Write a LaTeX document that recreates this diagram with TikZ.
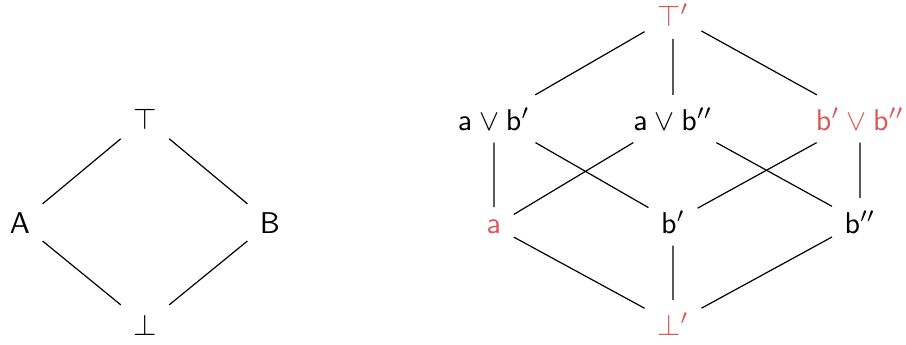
\documentclass[tikz,border=0pt]{standalone}
\definecolor{latred}{RGB}{217,88,84}
\begin{document}
\begin{tikzpicture}[x=0.33333pt,y=-0.33333pt,
  el/.style={anchor=base,inner sep=4pt,font=\sffamily},
  red/.style={text=latred}]
\useasboundingbox (0,0) rectangle (906,344);
% left lattice
\node[el] (T) at (145,129) {$\top$};
\node[el] (A) at (20,233) {A};
\node[el] (B) at (270,233) {B};
\node[el] (Bot) at (145,335) {$\bot$};
\draw (T) -- (A) (T) -- (B) (A) -- (Bot) (B) -- (Bot);
% right lattice
\node[el,red] (T2) at (673,26.5) {$\top'$};
\node[el] (ab1) at (494,130) {$\mathsf{a}\vee\mathsf{b}'$};
\node[el] (ab2) at (673,130) {$\mathsf{a}\vee\mathsf{b}''$};
\node[el,red] (bb) at (860,130) {$\mathsf{b}'\vee\mathsf{b}''$};
\node[el,red] (a) at (494,233) {$\mathsf{a}$};
\node[el] (b1) at (673,233) {$\mathsf{b}'$};
\node[el] (b2) at (860,233) {$\mathsf{b}''$};
\node[el,red] (Bot2) at (673,335) {$\bot'$};
\draw (T2) -- (ab1) (T2) -- (ab2) (T2) -- (bb)
      (ab1) -- (a) (ab1) -- (b1)
      (ab2) -- (a) (ab2) -- (b2)
      (bb) -- (b1) (bb) -- (b2)
      (a) -- (Bot2) (b1) -- (Bot2) (b2) -- (Bot2);
\end{tikzpicture}
\end{document}
